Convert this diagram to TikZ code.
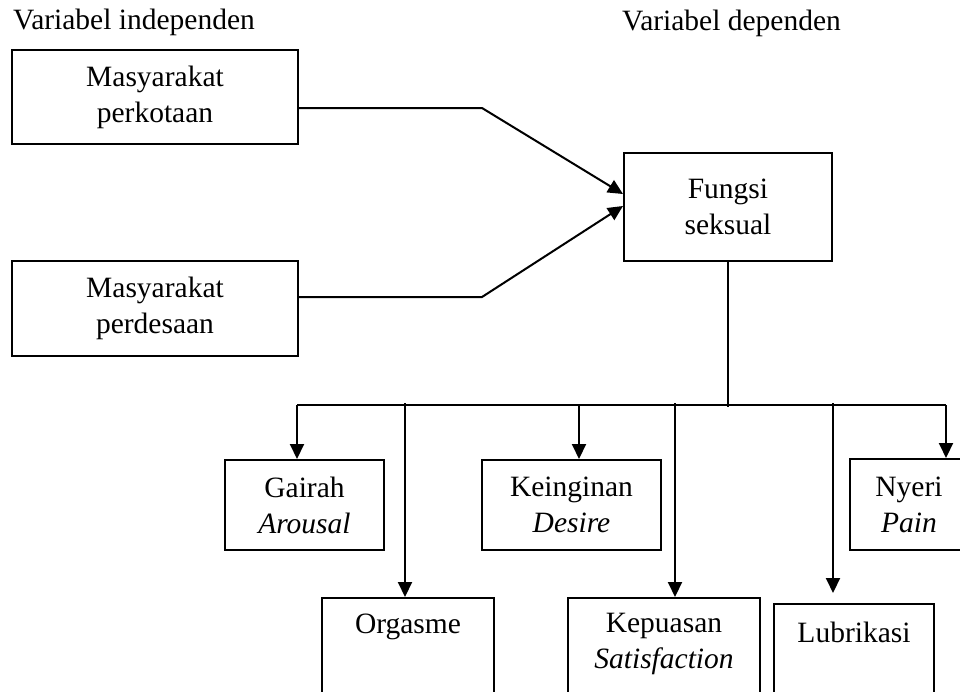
\documentclass[tikz,border=0pt]{standalone}
\usepackage{fontspec}
\setmainfont{Liberation Serif}
\usetikzlibrary{arrows.meta,calc}
\begin{document}
\begin{tikzpicture}[x=1pt,y=-1pt,
  box/.style={draw,line width=2pt,inner sep=0pt,anchor=north west,align=center,font=\fontsize{29.5}{36}\selectfont},
  lbl/.style={inner sep=0pt,align=center,font=\fontsize{29.5}{36}\selectfont},
  conn/.style={line width=2pt},
  arr/.style={conn,-{Triangle[length=15pt,width=14pt]}}]
\useasboundingbox (0,0) rectangle (960,691);
\node[lbl,anchor=west] (ti) at (13,22) {Variabel independen};
\node[lbl,anchor=west] (td) at (622,23) {Variabel dependen};
\node[box,minimum width=286pt,minimum height=94pt] (m1) at (11,49) {Masyarakat\\perkotaan};
\node[box,minimum width=286pt,minimum height=95pt] (m2) at (11,260) {Masyarakat\\perdesaan};
\node[box,minimum width=208pt,minimum height=108pt] (fung) at (623,152) {Fungsi\\seksual};
\node[box,minimum width=159pt,minimum height=90pt] (gai) at (224,459) {Gairah\\\textit{Arousal}};
\node[box,minimum width=179pt,minimum height=90pt] (kei) at (481,459) {Keinginan\\\textit{Desire}};
\node[box,minimum width=118pt,minimum height=91pt] (nye) at (849,458) {Nyeri\\\textit{Pain}};
\node[box,minimum width=172pt,minimum height=130pt] (org) at (321,597) {};
\node[box,minimum width=192pt,minimum height=130pt] (kep) at (567,597) {};
\node[box,minimum width=160pt,minimum height=130pt] (lub) at (773,603) {};
\node[lbl] (orgT) at ([yshift=-30pt]org.north) {Orgasme};
\node[lbl] (kepT) at ([yshift=-46.5pt]kep.north) {Kepuasan\\\textit{Satisfaction}};
\node[lbl] (lubT) at ([yshift=-29pt]lub.north) {Lubrikasi};
% inputs
\draw[arr] ([yshift=-11pt]m1.east) -- ++(183,0) -- ([yshift=13pt]fung.west);
\draw[arr] ([yshift=11.5pt]m2.east) -- ++(183,0) -- ([yshift=1pt]fung.west);
% bus
\coordinate (hub) at ([yshift=-145pt]fung.south);
\draw[conn] (fung.south) -- (hub);
\coordinate (b1) at (297,405);
\coordinate (b2) at (405,403);
\coordinate (b3) at (579,405);
\coordinate (b4) at (675,403);
\coordinate (b5) at (833,403);
\coordinate (b6) at (946,405);
\draw[conn] (b1) -- (b6);
\draw[arr] (b1) -- (b1 |- gai.north);
\draw[arr] (b2) -- (b2 |- org.north);
\draw[arr] (b3) -- (b3 |- kei.north);
\draw[arr] (b4) -- (b4 |- kep.north);
\draw[arr] (b5) -- ($(b5 |- lub.north)+(0,-10)$);
\draw[arr] (b6) -- (b6 |- nye.north);
\end{tikzpicture}
\end{document}
